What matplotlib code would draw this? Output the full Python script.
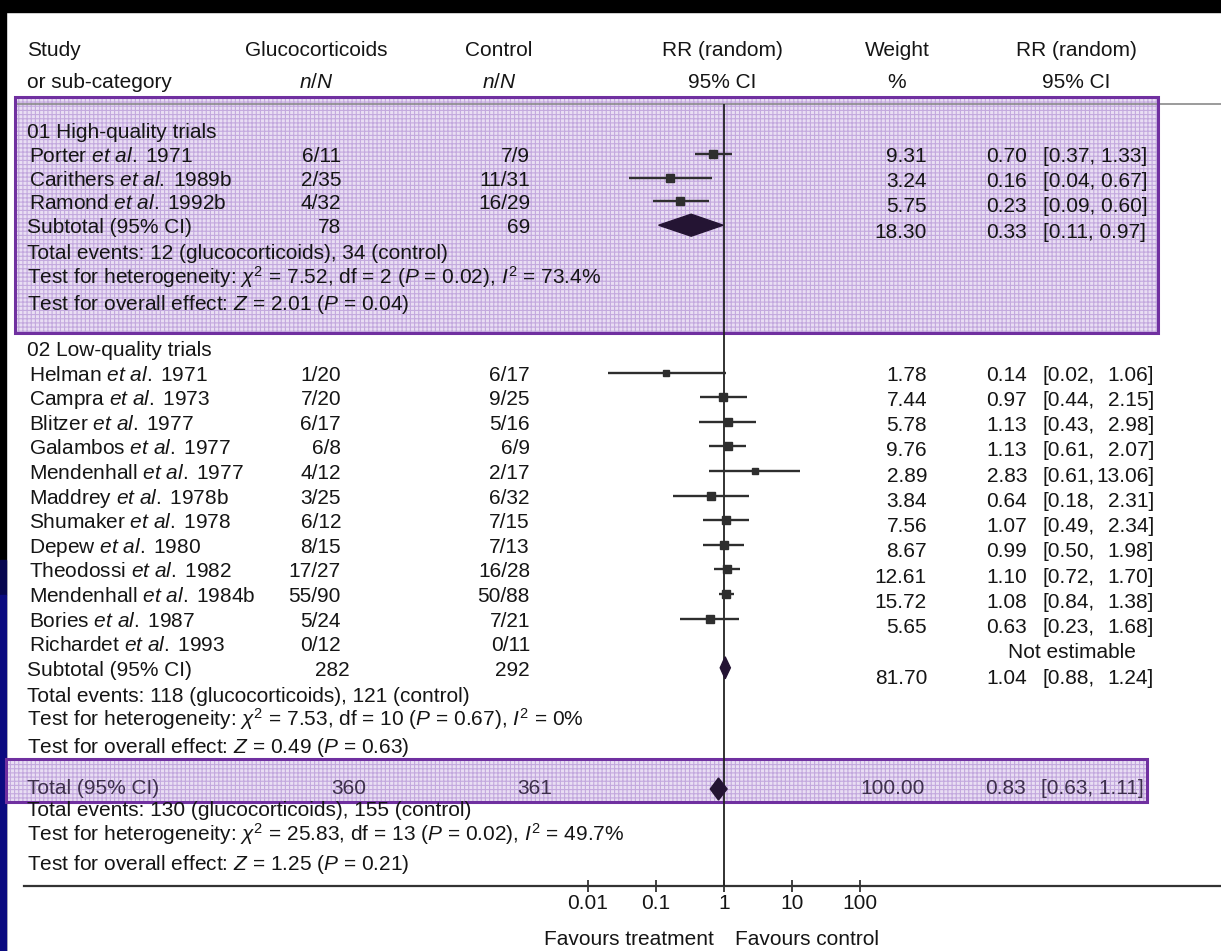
import matplotlib
matplotlib.use("Agg")
import matplotlib.pyplot as plt
from matplotlib import font_manager
from matplotlib.patches import Rectangle, Polygon
from matplotlib.ticker import NullLocator
import numpy as np

# fonts: the original is set in a narrow Helvetica, use it if we have one
names = {f.name for f in font_manager.fontManager.ttflist}
narrow = 'Liberation Sans Narrow' in names
FONT = 'Liberation Sans Narrow' if narrow else 'Liberation Sans'
plt.rcParams['font.family'] = [FONT, 'DejaVu Sans']
plt.rcParams['mathtext.fontset'] = 'custom'
plt.rcParams['mathtext.rm'] = FONT
plt.rcParams['mathtext.it'] = FONT + ':italic'
plt.rcParams['mathtext.bf'] = FONT + ':bold'
plt.rcParams['hatch.linewidth'] = 0.8
FS = 17 if narrow else 15

# ---- data ----
hq_title = "01 High-quality trials"
hq_names = ["Porter", "Carithers", "Ramond"]
hq_years = ["1971", "1989b", "1992b"]
hq_gc = ["6/11", "2/35", "4/32"]
hq_ctrl = ["7/9", "11/31", "16/29"]
hq_weight = [9.31, 3.24, 5.75]
hq_rr = [0.70, 0.16, 0.23]
hq_lo = [0.37, 0.04, 0.09]
hq_hi = [1.33, 0.67, 0.60]
hq_sub_n = ["78", "69"]
hq_sub_weight = 18.30
hq_sub_rr = [0.33, 0.11, 0.97]
hq_stats = ["Total events: 12 (glucocorticoids), 34 (control)",
            r"Test for heterogeneity: $\chi^2$ = 7.52, df = 2 ($P$ = 0.02), $I^2$ = 73.4%",
            r"Test for overall effect: $Z$ = 2.01 ($P$ = 0.04)"]

lq_title = "02 Low-quality trials"
lq_names = ["Helman", "Campra", "Blitzer", "Galambos", "Mendenhall", "Maddrey",
            "Shumaker", "Depew", "Theodossi", "Mendenhall", "Bories", "Richardet"]
lq_years = ["1971", "1973", "1977", "1977", "1977", "1978b",
            "1978", "1980", "1982", "1984b", "1987", "1993"]
lq_gc = ["1/20", "7/20", "6/17", "6/8", "4/12", "3/25",
         "6/12", "8/15", "17/27", "55/90", "5/24", "0/12"]
lq_ctrl = ["6/17", "9/25", "5/16", "6/9", "2/17", "6/32",
           "7/15", "7/13", "16/28", "50/88", "7/21", "0/11"]
lq_weight = [1.78, 7.44, 5.78, 9.76, 2.89, 3.84, 7.56, 8.67, 12.61, 15.72, 5.65, np.nan]
lq_rr = [0.14, 0.97, 1.13, 1.13, 2.83, 0.64, 1.07, 0.99, 1.10, 1.08, 0.63, np.nan]
lq_lo = [0.02, 0.44, 0.43, 0.61, 0.61, 0.18, 0.49, 0.50, 0.72, 0.84, 0.23, np.nan]
lq_hi = [1.06, 2.15, 2.98, 2.07, 13.06, 2.31, 2.34, 1.98, 1.70, 1.38, 1.68, np.nan]
lq_sub_n = ["282", "292"]
lq_sub_weight = 81.70
lq_sub_rr = [1.04, 0.88, 1.24]
lq_stats = ["Total events: 118 (glucocorticoids), 121 (control)",
            r"Test for heterogeneity: $\chi^2$ = 7.53, df = 10 ($P$ = 0.67), $I^2$ = 0%",
            r"Test for overall effect: $Z$ = 0.49 ($P$ = 0.63)"]

total_n = ["360", "361"]
total_weight = 100.00
total_rr = [0.83, 0.63, 1.11]
total_stats = ["Total events: 130 (glucocorticoids), 155 (control)",
               r"Test for heterogeneity: $\chi^2$ = 25.83, df = 13 ($P$ = 0.02), $I^2$ = 49.7%",
               r"Test for overall effect: $Z$ = 1.25 ($P$ = 0.21)"]

tick_vals = [0.01, 0.1, 1, 10, 100]
tick_labels = ["0.01", "0.1", "1", "10", "100"]

# ---- layout (pixels) ----
W, H = 1221, 951
X_ONE, PX_DEC = 724, 68.2
Y_TOP, Y_AX = 104, 886
TXT = '#151515'
PURPLE = '#7030a0'
MARK = '#2e2e2e'
DIA = '#241433'
BASE_OFF = 8
STAT_DY = [26, 50.5, 77]
RIGHT_STEP = 25.25

fig = plt.figure(figsize=(W / 100, H / 100), dpi=100)
base = fig.add_axes([0, 0, 1, 1])
base.set_xlim(0, W)
base.set_ylim(H, 0)
base.axis('off')

L = X_ONE - 2.5 * PX_DEC
fax = fig.add_axes([L / W, (H - Y_AX) / H, 5 * PX_DEC / W, (Y_AX - Y_TOP) / H])
fax.set_xscale('log')
fax.set_xlim(10 ** -2.5, 10 ** 2.5)
fax.set_ylim(Y_AX, Y_TOP)
fax.patch.set_alpha(0)
for s in fax.spines.values():
    s.set_visible(False)
fax.set_xticks(tick_vals, tick_labels)
fax.xaxis.set_minor_locator(NullLocator())
fax.set_yticks([])
fax.tick_params(axis='x', direction='inout', length=8, width=1.3, color='#333333',
                pad=2, labelsize=FS, labelcolor=TXT)


def put(x, y, s, ha='left', color=TXT):
    base.text(x, y + BASE_OFF, s, ha=ha, va='baseline', fontsize=FS, color=color, zorder=5)


def shaded_box(x0, y0, x1, y1):
    base.add_patch(Rectangle((x0, y0), x1 - x0, y1 - y0, facecolor='#e9def3',
                             edgecolor='#c3a9de', hatch='++++', lw=0, zorder=1))
    base.add_patch(Rectangle((x0, y0), x1 - x0, y1 - y0, fill=False,
                             edgecolor=PURPLE, lw=2.2, zorder=4))


def diamond(rr, lo, hi, y, h=10):
    fax.add_patch(Polygon([(lo, y), (rr, y - h), (hi, y), (rr, y + h)], closed=True,
                          facecolor=DIA, edgecolor=DIA, lw=1, zorder=6))


# frame decoration of the slide
base.add_patch(Rectangle((0, 0), W, 12, color='black', zorder=0))
base.add_patch(Rectangle((0, 0), 6, H, color='black', zorder=0))
base.add_patch(Rectangle((0, 560), 6, 35, color='#06064f', zorder=0))
base.add_patch(Rectangle((0, 595), 6, H - 595, color='#0b0b80', zorder=0))

# shaded boxes
shaded_box(15, 97, 1158, 333)
shaded_box(6, 759, 1147, 802)

# rules
base.plot([15, W], [Y_TOP, Y_TOP], color='#8a8a8a', lw=1.2, zorder=3)
base.plot([24, W], [Y_AX, Y_AX], color='#333333', lw=1.6, zorder=3)
fax.axvline(1, color='#222222', lw=1.3, zorder=5)

# headers
put(27, 48, "Study")
put(27, 80, "or sub-category")
for cx, top, bot in [(316, "Glucocorticoids", r"$n/N$"), (499, "Control", r"$n/N$"),
                     (722, "RR (random)", "95% CI"), (897, "Weight", "%"),
                     (1076, "RR (random)", "95% CI")]:
    put(cx, 48, top, ha='center')
    put(cx, 80, bot, ha='center')


def section(title, y0, step, names_, years, gc, ctrl, w, rr, lo, hi,
            sub_n, sub_w, sub_rr, stats, split_ci):
    put(27, y0, title)
    for i in range(len(names_)):
        y = y0 + step * (i + 1)
        yr = y0 + step + RIGHT_STEP * i
        put(29, y, names_[i] + r" $\mathit{et\ al.}\;\mathrm{" + years[i] + "}$")
        put(341, y, gc[i], ha='right')
        put(530, y, ctrl[i], ha='right')
        if np.isnan(w[i]):
            put(1072, yr, "Not estimable", ha='center')
            continue
        put(927, yr, f"{w[i]:.2f}", ha='right')
        put(1027, yr, f"{rr[i]:.2f}", ha='right')
        if split_ci:
            put(1042, yr, f"[{lo[i]:.2f},")
            put(1154, yr, f"{hi[i]:.2f}]", ha='right')
        else:
            put(1043, yr, f"[{lo[i]:.2f}, {hi[i]:.2f}]")
        ms = 4.8 + 0.08 * w[i]
        fax.plot([lo[i], hi[i]], [y, y], color=MARK, lw=1.7, zorder=6, solid_capstyle='butt')
        fax.plot([rr[i]], [y], 's', color=MARK, ms=ms, zorder=7)
    ys = y0 + step * (len(names_) + 1)
    yr = y0 + step + RIGHT_STEP * len(names_)
    put(27, ys, "Subtotal (95% CI)")
    put(341 if not split_ci else 350, ys, sub_n[0], ha='right')
    put(530, ys, sub_n[1], ha='right')
    put(927, yr, f"{sub_w:.2f}", ha='right')
    put(1027, yr, f"{sub_rr[0]:.2f}", ha='right')
    if split_ci:
        put(1042, yr, f"[{sub_rr[1]:.2f},")
        put(1154, yr, f"{sub_rr[2]:.2f}]", ha='right')
    else:
        put(1043, yr, f"[{sub_rr[1]:.2f}, {sub_rr[2]:.2f}]")
    diamond(sub_rr[0], sub_rr[1], sub_rr[2], ys, h=11)
    for dy, s in zip(STAT_DY, stats):
        put(27, ys + dy, s)


section(hq_title, 130, 23.8, hq_names, hq_years, hq_gc, hq_ctrl, hq_weight,
        hq_rr, hq_lo, hq_hi, hq_sub_n, hq_sub_weight, hq_sub_rr, hq_stats, False)
section(lq_title, 348, 24.6, lq_names, lq_years, lq_gc, lq_ctrl, lq_weight,
        lq_rr, lq_lo, lq_hi, lq_sub_n, lq_sub_weight, lq_sub_rr, lq_stats, True)

# overall total
TOT = '#3d2f4c'
y_tot = 786
put(27, y_tot, "Total (95% CI)", color=TOT)
put(366, y_tot, total_n[0], ha='right', color=TOT)
put(552, y_tot, total_n[1], ha='right', color=TOT)
put(925, y_tot, f"{total_weight:.2f}", ha='right', color=TOT)
put(1026, y_tot, f"{total_rr[0]:.2f}", ha='right', color=TOT)
put(1041, y_tot, f"[{total_rr[1]:.2f}, {total_rr[2]:.2f}]", color=TOT)
diamond(total_rr[0], total_rr[1], total_rr[2], 789, h=11)
for dy, s in zip([22, 47, 76], total_stats):
    put(27, y_tot + dy, s)

# favours labels
put(714, 937, "Favours treatment", ha='right')
put(735, 937, "Favours control")

fig.savefig("out.png", dpi=100)
